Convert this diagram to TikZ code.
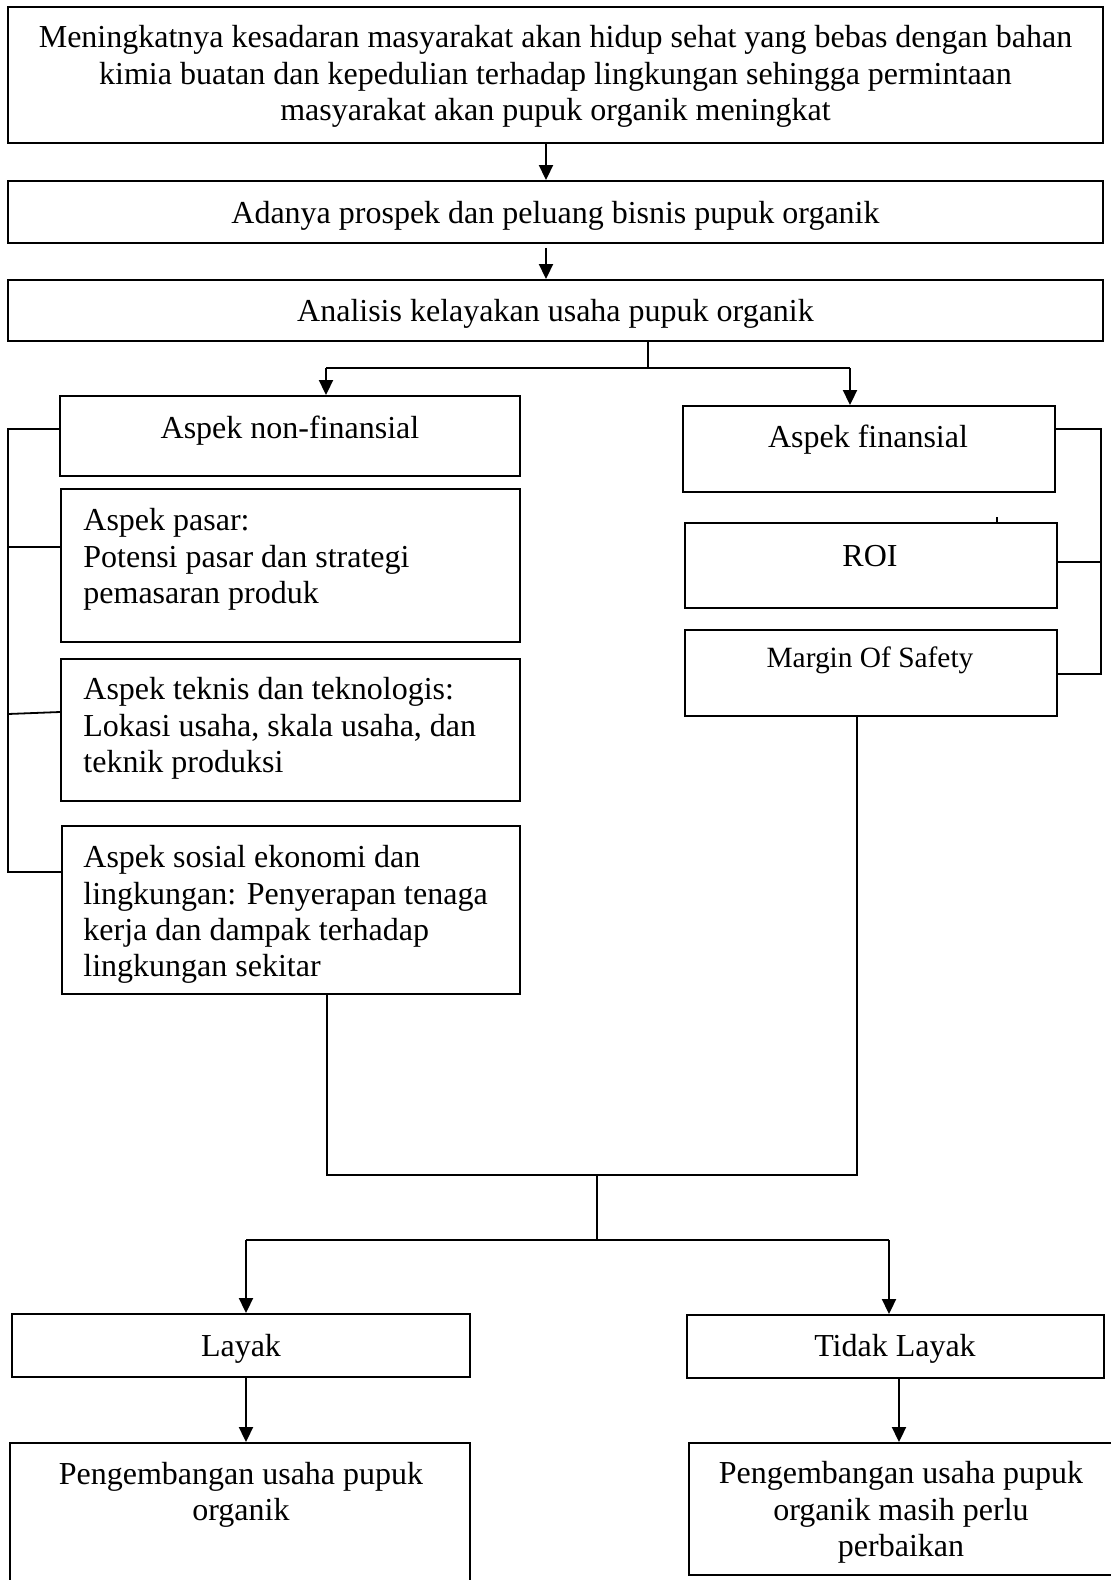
\documentclass[tikz,border=0pt]{standalone}
\usepackage{fontspec}
\setmainfont{Liberation Serif}
\usetikzlibrary{arrows.meta,fit}
\begin{document}
\begin{tikzpicture}[x=0.5pt,y=-0.5pt,
  box/.style={draw, line width=0.95pt, inner sep=0pt},
  txt/.style={font=\fontsize{16}{18.2}\selectfont, inner sep=0pt, align=center, yshift=-1.8pt},
  ltxt/.style={txt, align=left, anchor=west},
  stxt/.style={font=\fontsize{14.7}{17}\selectfont, inner sep=0pt, align=center, yshift=-1.5pt},
  arr/.style={line width=0.95pt, -{Triangle[length=7.5pt,width=7pt]}},
  ln/.style={line width=0.9pt}]
\useasboundingbox (0,0) rectangle (1111,1580);

% boxes
\node[box, fit={(8,7) (1103,143)}] (b1) {};
\node[box, fit={(8,181) (1103,243)}] (b2) {};
\node[box, fit={(8,280) (1103,341)}] (b3) {};
\node[box, fit={(60,396) (520,476)}] (nf) {};
\node[box, fit={(61,489) (520,642)}] (pas) {};
\node[box, fit={(61,659) (520,801)}] (tek) {};
\node[box, fit={(62,826) (520,994)}] (sos) {};
\node[box, fit={(683,406) (1055,492)}] (fin) {};
\node[box, fit={(685,523) (1057,608)}] (roi) {};
\node[box, fit={(685,630) (1057,716)}] (mos) {};
\node[box, fit={(12,1314) (470,1377)}] (lay) {};
\node[box, fit={(687,1315) (1104,1378)}] (tid) {};
\node[box, fit={(10,1443) (470,1620)}] (pl) {};
\node[box, fit={(689,1443) (1130,1575)}] (pr) {};

% texts
\node[txt, yshift=1.1pt] (t1) at (b1.center) {Meningkatnya kesadaran masyarakat akan hidup sehat yang bebas dengan bahan\\kimia buatan dan kepedulian terhadap lingkungan sehingga permintaan\\masyarakat akan pupuk organik meningkat};
\node[txt] (t2) at (b2.center) {Adanya prospek dan peluang bisnis pupuk organik};
\node[txt] (t3) at (b3.center) {Analisis kelayakan usaha pupuk organik};
\node[txt] (t4) at (290,427) {Aspek non-finansial};
\node[ltxt] (t5) at (83,556) {Aspek pasar:\\Potensi pasar dan strategi\\pemasaran produk};
\node[ltxt] (t6) at (83,725) {Aspek teknis dan teknologis:\\Lokasi usaha, skala usaha, dan\\teknik produksi};
\node[ltxt] (t7) at (83,911) {Aspek sosial ekonomi dan\\lingkungan: Penyerapan tenaga\\kerja dan dampak terhadap\\lingkungan sekitar};
\node[txt] (t8) at (868,436) {Aspek finansial};
\node[txt] (t9) at (870,552) {ROI};
\node[stxt] (t10) at (870,657) {Margin Of Safety};
\node[txt] (t11) at (241,1345) {Layak};
\node[txt] (t12) at (895,1345) {Tidak Layak};
\node[txt] (t13) at (241,1491) {Pengembangan usaha pupuk\\organik};
\node[txt] (t14) at (901,1509) {Pengembangan usaha pupuk\\organik masih perlu\\perbaikan};

% top arrows
\coordinate (xa) at (546,0);
\draw[arr] (b1.south -| xa) -- (b2.north -| xa);
\draw[arr] ([yshift=-2pt]b2.south -| xa) -- (b3.north -| xa);

% split
\coordinate (j1) at (648,368);
\coordinate (jl) at (326,368);
\coordinate (jr) at (850,368);
\draw[ln] (b3.south -| j1) -- (j1);
\draw[ln] (jl) -- (jr);
\draw[arr] (jl) -- (nf.north -| jl);
\draw[arr] (jr) -- (fin.north -| jr);

% left bracket
\coordinate (lbt) at (8,429);
\coordinate (lbb) at (8,872);
\draw[ln] (nf.west |- lbt) -- (lbt) -- (lbb) -- (sos.west |- lbb);
\draw[ln] (pas.west |- 0,547) -- (lbt |- 0,547);
\draw[ln] (tek.west |- 0,712) -- (lbt |- 0,714);

% right bracket
\coordinate (rbt) at (1101,429);
\coordinate (rbb) at (1101,674);
\draw[ln] (fin.east |- rbt) -- (rbt) -- (rbb) -- (mos.east |- rbb);
\draw[ln] (roi.east |- 0,562) -- (rbt |- 0,562);
\draw[ln] (roi.north -| 997,0) -- ++(0,-5);

% merge
\coordinate (mL) at (327,1175);
\coordinate (mR) at (857,1175);
\coordinate (m) at (597,1175);
\coordinate (s) at (597,1240);
\coordinate (sL) at (246,1240);
\coordinate (sR) at (889,1240);
\draw[ln] (sos.south -| mL) -- (mL) -- (mR) -- (mos.south -| mR);
\draw[ln] (m) -- (s);
\draw[ln] (sL) -- (sR);
\draw[arr] (sL) -- (lay.north -| sL);
\draw[arr] (sR) -- (tid.north -| sR);

% bottom arrows
\coordinate (xr2) at (899,0);
\draw[arr] (lay.south -| sL) -- (pl.north -| sL);
\draw[arr] (tid.south -| xr2) -- (pr.north -| xr2);
\end{tikzpicture}
\end{document}
